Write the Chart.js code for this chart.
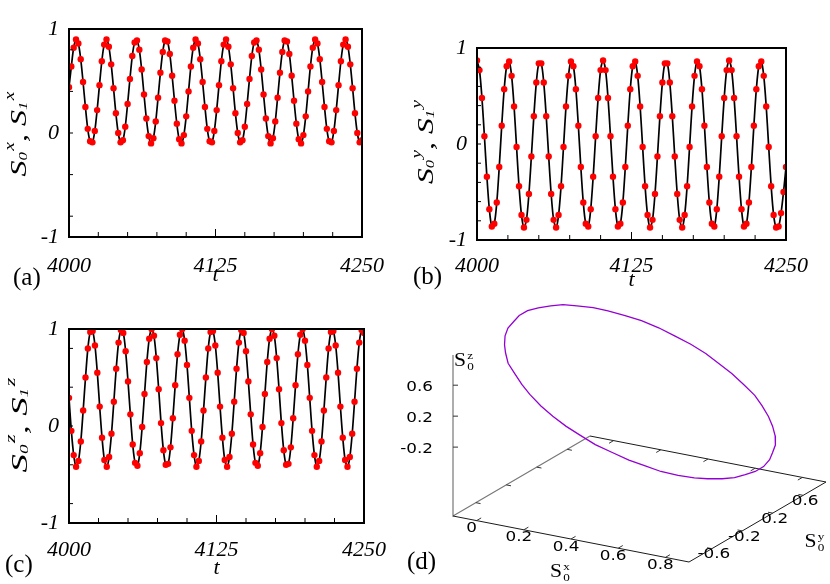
<!DOCTYPE html>
<html>
<head>
<meta charset="utf-8">
<title>Spin components S0, S1</title>
<script src="https://cdn.jsdelivr.net/npm/chart.js@4.4.1/dist/chart.umd.min.js"></script>
<style>
  html, body { margin: 0; background: #fff; }
  #figure { position: relative; width: 830px; height: 584px; overflow: hidden; background: #fff; }
  .panel { position: absolute; }
  .tag { position: absolute; font: 25px/25px "Liberation Serif", "Times New Roman", serif; color: #000; }
</style>
</head>
<body>
<div id="figure">
  <div class="panel" style="left:0;top:0;width:400px;height:300px"><canvas id="panelA"></canvas></div>
  <div class="panel" style="left:400px;top:0;width:430px;height:300px"><canvas id="panelB"></canvas></div>
  <div class="panel" style="left:0;top:300px;width:400px;height:284px"><canvas id="panelC"></canvas></div>
  <div class="panel" style="left:400px;top:292px;width:430px;height:292px"><canvas id="panelD"></canvas></div>
  <div class="tag" style="left:13px;top:264px">(a)</div>
  <div class="tag" style="left:413px;top:263px">(b)</div>
  <div class="tag" style="left:5px;top:551px">(c)</div>
  <div class="tag" style="left:407px;top:548px">(d)</div>
</div>
<script>
// time samples (every 2 time units)
const times = [
  4000,4002,4004,4006,4008,4010,4012,4014,4016,4018,
  4020,4022,4024,4026,4028,4030,4032,4034,4036,4038,
  4040,4042,4044,4046,4048,4050,4052,4054,4056,4058,
  4060,4062,4064,4066,4068,4070,4072,4074,4076,4078,
  4080,4082,4084,4086,4088,4090,4092,4094,4096,4098,
  4100,4102,4104,4106,4108,4110,4112,4114,4116,4118,
  4120,4122,4124,4126,4128,4130,4132,4134,4136,4138,
  4140,4142,4144,4146,4148,4150,4152,4154,4156,4158,
  4160,4162,4164,4166,4168,4170,4172,4174,4176,4178,
  4180,4182,4184,4186,4188,4190,4192,4194,4196,4198,
  4200,4202,4204,4206,4208,4210,4212,4214,4216,4218,
  4220,4222,4224,4226,4228,4230,4232,4234,4236,4238,
  4240,4242,4244,4246,4248,4250
];

// S^x (panel a)
const spinX = [
  .44,.64,.82,.90,.86,.71,.49,.25,.04,-.08,
  -.09,.02,.22,.46,.69,.85,.90,.83,.66,.43,
  .19,.00,-.09,-.07,.06,.28,.52,.74,.87,.89,
  .80,.61,.37,.14,-.03,-.10,-.05,.11,.34,.58,
  .78,.89,.88,.76,.55,.31,.09,-.06,-.10,-.02,
  .16,.40,.64,.82,.90,.86,.71,.49,.25,.04,
  -.08,-.09,.02,.22,.46,.69,.85,.90,.83,.66,
  .43,.19,.00,-.09,-.07,.06,.28,.52,.74,.87,
  .89,.80,.61,.37,.14,-.03,-.10,-.05,.11,.34,
  .58,.78,.89,.88,.76,.55,.31,.09,-.06,-.10,
  -.02,.16,.40,.64,.82,.90,.86,.71,.49,.25,
  .04,-.08,-.09,.02,.22,.46,.69,.85,.90,.83,
  .66,.43,.19,.00,-.09,-.07
];

// S^y (panel b)
const spinY = [
  .87,.77,.48,.08,-.34,-.68,-.86,-.83,-.61,-.24,
  .19,.57,.81,.86,.71,.39,-.03,-.44,-.74,-.87,
  -.79,-.52,-.13,.29,.64,.84,.84,.64,.29,-.13,
  -.52,-.79,-.87,-.74,-.44,-.03,.39,.71,.86,.81,
  .57,.19,-.24,-.61,-.83,-.86,-.68,-.34,.08,.48,
  .77,.87,.77,.48,.08,-.34,-.68,-.86,-.83,-.61,
  -.24,.19,.57,.81,.86,.71,.39,-.03,-.44,-.74,
  -.87,-.79,-.52,-.13,.29,.64,.84,.84,.64,.29,
  -.13,-.52,-.79,-.87,-.74,-.44,-.03,.39,.71,.86,
  .81,.57,.19,-.24,-.61,-.83,-.86,-.68,-.34,.08,
  .48,.77,.87,.77,.48,.08,-.34,-.68,-.86,-.83,
  -.61,-.24,.19,.57,.81,.86,.71,.39,-.03,-.44,
  -.74,-.87,-.86,-.72,-.50,-.24
];

// S^z (panel c)
const spinZ = [
  .29,-.05,-.30,-.42,-.36,-.16,.16,.50,.80,.97,
  .98,.83,.55,.20,-.12,-.35,-.42,-.32,-.08,.25,
  .59,.86,.99,.96,.77,.46,.12,-.19,-.38,-.41,
  -.28,-.01,.33,.66,.90,1.00,.93,.70,.38,.03,
  -.25,-.40,-.39,-.22,.08,.42,.74,.94,1.00,.88,
  .63,.29,-.05,-.30,-.42,-.36,-.16,.16,.50,.80,
  .97,.98,.83,.55,.20,-.12,-.35,-.42,-.32,-.08,
  .25,.59,.86,.99,.96,.77,.46,.12,-.19,-.38,
  -.41,-.28,-.01,.33,.66,.90,1.00,.93,.70,.38,
  .03,-.25,-.40,-.39,-.22,.08,.42,.74,.94,1.00,
  .88,.63,.29,-.05,-.30,-.42,-.36,-.16,.16,.50,
  .80,.97,.98,.83,.55,.20,-.12,-.35,-.42,-.32,
  -.08,.25,.59,.86,.99,.96
];

const timeTicks = [4000, 4125, 4250];
const timeMinor = [4025, 4050, 4075, 4100, 4125, 4150, 4175, 4200, 4225];
const valueTicks = [-1, 0, 1];

// closed orbit of S0 (panel d)
const orbitX = [
  .40,.46,.52,.58,.64,.69,.74,.78,.82,.85,.87,.89,.90,.90,.89,.88,.86,.83,.80,.76,
  .71,.66,.61,.55,.49,.43,.37,.31,.25,.19,.14,.09,.04,.00,-.03,-.06,-.08,-.09,-.10,-.10,
  -.09,-.07,-.05,-.02,.02,.06,.11,.16,.22,.28,.34,.40
];
const orbitY = [
  .87,.86,.84,.81,.77,.71,.64,.57,.48,.39,.29,.19,.08,-.03,-.13,-.24,-.34,-.44,-.52,-.61,
  -.68,-.74,-.79,-.83,-.86,-.87,-.87,-.86,-.83,-.79,-.74,-.68,-.61,-.52,-.44,-.34,-.24,-.13,-.03,.08,
  .19,.29,.39,.48,.57,.64,.71,.77,.81,.84,.86,.87
];
const orbitZ = [
  .29,.20,.12,.03,-.05,-.12,-.19,-.25,-.30,-.35,-.38,-.40,-.42,-.42,-.41,-.39,-.36,-.32,-.28,-.22,
  -.16,-.08,-.01,.08,.16,.25,.33,.42,.50,.59,.66,.74,.80,.86,.90,.94,.97,.99,1.00,1.00,
  .98,.96,.93,.88,.83,.77,.70,.63,.55,.46,.38,.29
];
const orbitXTicks = [0, 0.2, 0.4, 0.6, 0.8];
const orbitYTicks = [-0.6, -0.2, 0.2, 0.6];
const orbitZTicks = [-0.2, 0.2, 0.6];

// 3D box ranges and how each box edge is seen on screen
const boxX = [-0.1, 0.9], boxY = [-0.9, 0.9], boxZ = [-1.09, 0.99];
const view = { x: [236, -46], y: [137, 80], z: [0, 161] };

function project(x, y, z) {
  const nx = (x - boxX[0]) / (boxX[1] - boxX[0]);
  const ny = (y - boxY[0]) / (boxY[1] - boxY[0]);
  const nz = (z - boxZ[0]) / (boxZ[1] - boxZ[0]);
  return {
    x: nx * view.x[0] + ny * view.y[0] + nz * view.z[0],
    y: nx * view.x[1] + ny * view.y[1] + nz * view.z[1]
  };
}

// text with sub/superscripts; f.stack puts the superscript above the subscript
function scriptWidth(ctx, items, f) {
  let w = 0;
  items.forEach(it => {
    ctx.font = f.big;
    w += ctx.measureText(it.t).width;
    if (it.sub || it.sup) {
      ctx.font = f.small;
      const ws = ctx.measureText(it.sub || '').width;
      ctx.font = f.sup || f.small;
      const wp = ctx.measureText(it.sup || '').width + f.supDx;
      w += f.gap + (f.stack ? Math.max(ws, wp) : ws + wp);
    }
  });
  return w;
}

function drawScript(ctx, items, f, x0) {
  let x = x0;
  ctx.fillStyle = '#000';
  ctx.textAlign = 'left';
  ctx.textBaseline = 'alphabetic';
  items.forEach(it => {
    ctx.font = f.big;
    ctx.fillText(it.t, x, 0);
    x += ctx.measureText(it.t).width;
    if (it.sub || it.sup) {
      x += f.gap;
      ctx.font = f.small;
      const ws = ctx.measureText(it.sub || '').width;
      if (it.sub) ctx.fillText(it.sub, x, f.subDy);
      ctx.font = f.sup || f.small;
      const wp = ctx.measureText(it.sup || '').width + f.supDx;
      const sx = f.stack ? x : x + ws;
      if (it.sup) ctx.fillText(it.sup, sx + f.supDx, f.supDy);
      x += f.stack ? Math.max(ws, wp) : ws + wp;
    }
  });
}

const serif = '"Liberation Serif", "Times New Roman", serif';
const tickFont = { family: serif, size: 22, style: 'italic' };
const spinFont = { big: 'italic 23px ' + serif, small: 'italic 12px ' + serif, sup: 'italic 14px ' + serif,
  gap: 0, subDy: 1, supDy: -12, supDx: 1, stack: false };
const orbitNameFont = { big: '18px ' + serif, small: '11px ' + serif, gap: 1, subDy: 4, supDy: -7, supDx: 0, stack: true };

const framePlugin = {
  id: 'frame',
  afterDatasetsDraw(chart, args, o) {
    const { ctx, chartArea: a, scales: { x, y } } = chart;
    ctx.save();
    ctx.strokeStyle = '#000';
    ctx.lineWidth = 1;
    ctx.beginPath();
    timeMinor.forEach(v => {
      const px = x.getPixelForValue(v);
      ctx.moveTo(px, a.bottom);
      ctx.lineTo(px, a.bottom - (timeTicks.includes(v) ? 8 : 5));
    });
    o.yMinor.forEach(v => {
      const py = y.getPixelForValue(v);
      ctx.moveTo(a.left, py);
      ctx.lineTo(a.left + 4, py);
    });
    ctx.stroke();
    ctx.lineWidth = 2;
    ctx.strokeRect(a.left, a.top, a.right - a.left, a.bottom - a.top);

    const items = [{ t: 'S', sub: '0', sup: o.comp }, { t: ', ' }, { t: 'S', sub: '1', sup: o.comp }];
    const w = scriptWidth(ctx, items, spinFont);
    ctx.translate(a.left - o.titleGap, (a.top + a.bottom) / 2 + o.titleShift);
    ctx.rotate(-Math.PI / 2);
    ctx.scale(o.titleLength / w, 1);
    drawScript(ctx, items, spinFont, -w / 2);
    ctx.restore();
  }
};

function timeChart(id, values, comp, cfg) {
  const points = times.map((t, i) => ({ x: t, y: values[i] }));
  return new Chart(document.getElementById(id), {
    type: 'line',
    data: {
      datasets: [
        { data: points, showLine: false, pointRadius: 3.2, pointBackgroundColor: '#ff0000', pointBorderWidth: 0 },
        { data: points, borderColor: '#000', borderWidth: 1.7, pointRadius: 0, tension: 0.3, fill: false }
      ]
    },
    options: {
      responsive: true,
      maintainAspectRatio: false,
      animation: false,
      events: [],
      layout: { padding: { left: 0, top: cfg.top, right: cfg.right, bottom: 0 } },
      plugins: {
        legend: { display: false },
        tooltip: { enabled: false },
        frame: { comp, yMinor: cfg.yMinor, titleGap: cfg.titleGap, titleShift: cfg.titleShift, titleLength: cfg.titleLength }
      },
      scales: {
        x: {
          type: 'linear', min: 4000, max: 4250,
          afterBuildTicks: s => { s.ticks = timeTicks.map(v => ({ value: v })); },
          afterFit: s => { s.height = cfg.xHeight; },
          grid: { display: false, drawTicks: false },
          border: { display: false },
          ticks: { font: tickFont, color: '#000', padding: cfg.labelPad, maxRotation: 0, autoSkip: false, callback: v => String(v) },
          title: { display: true, text: 't', font: tickFont, color: '#000', padding: { top: 0, bottom: cfg.titlePad } }
        },
        y: {
          min: -1, max: 1,
          afterBuildTicks: s => { s.ticks = valueTicks.map(v => ({ value: v })); },
          afterFit: s => { s.width = cfg.yWidth; },
          grid: { display: false, drawTicks: false },
          border: { display: false },
          ticks: { font: tickFont, color: '#000', padding: 10, callback: v => String(v) }
        }
      }
    },
    plugins: [framePlugin]
  });
}

timeChart('panelA', spinX, 'x', {
  top: 29, right: 34, yWidth: 69, xHeight: 63, labelPad: 16, titlePad: 12,
  yMinor: [-0.8, -0.4, 0, 0.4, 0.8], titleGap: 43, titleShift: 1, titleLength: 85
});
timeChart('panelB', spinY, 'y', {
  top: 48, right: 44, yWidth: 77, xHeight: 60, labelPad: 13, titlePad: 7,
  yMinor: [-0.8, -0.6, -0.4, -0.2, 0, 0.2, 0.4, 0.6, 0.8], titleGap: 44, titleShift: -2, titleLength: 84
});
timeChart('panelC', spinZ, 'z', {
  top: 29, right: 35, yWidth: 69, xHeight: 61, labelPad: 14, titlePad: 3,
  yMinor: [-0.8, -0.4, 0, 0.4, 0.8], titleGap: 42, titleShift: -1, titleLength: 95
});

// panel (d): ticks, tick labels and axis names of the 3D box
function stretchedText(ctx, text, x, y, align) {
  ctx.save();
  ctx.translate(x, y);
  ctx.scale(1.2, 1);
  ctx.font = '14px "DejaVu Sans", sans-serif';
  ctx.fillStyle = '#000';
  ctx.textAlign = align;
  ctx.textBaseline = 'middle';
  ctx.fillText(text, 0, 0);
  ctx.restore();
}

const orbitAxesPlugin = {
  id: 'orbitAxes',
  afterDatasetsDraw(chart) {
    const { ctx, scales: { x, y } } = chart;
    const pix = p => [x.getPixelForValue(p.x), y.getPixelForValue(p.y)];
    const seg = (p, q) => {
      const [x1, y1] = pix(p), [x2, y2] = pix(q);
      ctx.moveTo(x1, y1);
      ctx.lineTo(x2, y2);
    };
    ctx.save();
    ctx.strokeStyle = '#333';
    ctx.lineWidth = 1;
    ctx.beginPath();
    orbitXTicks.forEach(v => {
      seg(project(v, boxY[0], boxZ[0]), project(v, boxY[0] + 0.06, boxZ[0]));
      seg(project(v, boxY[1], boxZ[0]), project(v, boxY[1] - 0.06, boxZ[0]));
    });
    orbitYTicks.forEach(v => {
      seg(project(boxX[0], v, boxZ[0]), project(boxX[0] + 0.02, v, boxZ[0]));
      seg(project(boxX[1], v, boxZ[0]), project(boxX[1] - 0.02, v, boxZ[0]));
    });
    orbitZTicks.forEach(v => {
      const [px, py] = pix(project(boxX[0], boxY[0], v));
      ctx.moveTo(px, py);
      ctx.lineTo(px + 5, py);
    });
    ctx.stroke();

    orbitXTicks.forEach(v => {
      const [px, py] = pix(project(v, boxY[0], boxZ[0]));
      stretchedText(ctx, String(v), px - 5, py + 8, 'center');
    });
    orbitYTicks.forEach(v => {
      const [px, py] = pix(project(boxX[1], v, boxZ[0]));
      stretchedText(ctx, String(v), px + 2, py + 6, 'center');
    });
    orbitZTicks.forEach(v => {
      const [px, py] = pix(project(boxX[0], boxY[0], v));
      stretchedText(ctx, String(v), px - 20, py + 2, 'right');
    });

    const names = [
      { at: project(boxX[0], boxY[0], boxZ[1]), dx: 1, dy: 11, sup: 'z' },
      { at: project((boxX[0] + boxX[1]) / 2, boxY[0], boxZ[0]), dx: -21, dy: 38, sup: 'x' },
      { at: project(boxX[1], (boxY[0] + boxY[1]) / 2, boxZ[0]), dx: 47, dy: 25, sup: 'y' }
    ];
    names.forEach(n => {
      const [px, py] = pix(n.at);
      ctx.save();
      ctx.translate(px + n.dx, py + n.dy);
      ctx.scale(1.2, 1);
      drawScript(ctx, [{ t: 'S', sub: '0', sup: n.sup }], orbitNameFont, 0);
      ctx.restore();
    });
    ctx.restore();
  }
};

const orbitPoints = orbitX.map((v, i) => project(v, orbitY[i], orbitZ[i]));
const corner = (i, j, k) => project(boxX[i], boxY[j], boxZ[k]);

new Chart(document.getElementById('panelD'), {
  type: 'scatter',
  data: {
    datasets: [
      { data: orbitPoints, showLine: true, borderColor: '#9400d3', borderWidth: 1.3, pointRadius: 0, tension: 0 },
      { data: [corner(0, 0, 0), corner(1, 0, 0), corner(1, 1, 0), corner(0, 1, 0)], showLine: true, borderColor: '#1a1a1a', borderWidth: 1, pointRadius: 0 },
      { data: [corner(0, 1, 0), corner(0, 0, 0), corner(0, 0, 1)], showLine: true, borderColor: '#777', borderWidth: 1.2, pointRadius: 0 }
    ]
  },
  options: {
    responsive: true,
    maintainAspectRatio: false,
    animation: false,
    events: [],
    layout: { padding: 0 },
    plugins: { legend: { display: false }, tooltip: { enabled: false } },
    scales: {
      x: { type: 'linear', display: false, min: -53, max: 377 },
      y: { type: 'linear', display: false, min: -68, max: 224 }
    }
  },
  plugins: [orbitAxesPlugin]
});
</script>
</body>
</html>
